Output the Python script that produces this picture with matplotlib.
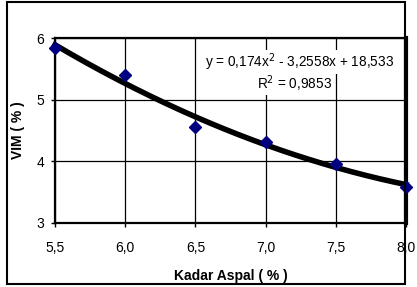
import numpy as np
import matplotlib
matplotlib.use("Agg")
import matplotlib.pyplot as plt
from matplotlib.patches import Rectangle

kadar = [5.5, 6.0, 6.5, 7.0, 7.5, 8.0]
vim = [5.84, 5.40, 4.55, 4.31, 3.96, 3.59]
xticks = [5.5, 6.0, 6.5, 7.0, 7.5, 8.0]
xticklabels = ["5,5", "6,0", "6,5", "7,0", "7,5", "8,0"]
yticks = [3, 4, 5, 6]
coef = [0.174, -3.2558, 18.533]

plt.rcParams['font.family'] = ['Liberation Sans', 'DejaVu Sans']

W, H = 417, 287
fig = plt.figure(figsize=(W/100, H/100), dpi=100)
fig.patches.append(Rectangle((7/W, 3/H), (405-7)/W, (285-3)/H, transform=fig.transFigure,
                             fill=False, edgecolor='black', linewidth=1.5, zorder=0))
ax = fig.add_axes([55/W, 1-223/H, (406-55)/W, (223-38)/H])
ax.set_xlim(5.5, 8.0)
ax.set_ylim(3, 6)
ax.set_xticks(xticks)
ax.set_xticklabels(xticklabels)
ax.set_yticks(yticks)
ax.grid(True, color='black', linewidth=0.9)
ax.set_axisbelow(True)
for s in ax.spines.values():
    s.set_linewidth(1.6)
ax.spines['right'].set_linewidth(3)
ax.tick_params(direction='out', length=3, width=1, labelsize=10, colors='black')
ax.tick_params(axis='x', pad=10)
ax.tick_params(axis='y', pad=5)

xs = np.linspace(5.5, 8.0, 200)
ys = np.polyval(coef, xs)
ax.plot(xs, ys, color='black', linewidth=4, zorder=3, clip_on=False)
ax.plot(kadar, vim, linestyle='none', marker='D', markersize=6.5, color='#000080', zorder=4, clip_on=False)

bbox = dict(facecolor='white', edgecolor='none', pad=1)
ax.text(0.965, 0.87, "y = 0,174x$^2$ - 3,2558x + 18,533", transform=ax.transAxes, ha='right', va='center', fontsize=9.8, bbox=bbox, zorder=2)
ax.text(0.79, 0.755, "R$^2$ = 0,9853", transform=ax.transAxes, ha='right', va='center', fontsize=9.8, bbox=bbox, zorder=2)

ax.set_xlabel("Kadar Aspal ( % )", fontsize=10, fontweight='bold', labelpad=10)
ax.set_ylabel("VIM ( % )", fontsize=10, fontweight='bold', labelpad=8)

fig.savefig("out.png", dpi=100)
